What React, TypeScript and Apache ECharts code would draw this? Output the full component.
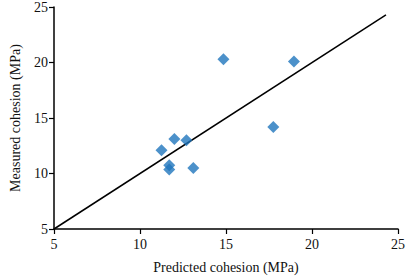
import React, { useEffect, useRef } from "react";
import * as echarts from "echarts";

const predicted = [14.85, 18.95, 17.75, 12.0, 12.7, 11.25, 11.7, 11.7, 13.1];
const measured = [20.3, 20.1, 14.2, 13.1, 13.0, 12.1, 10.75, 10.35, 10.5];
const lineX = [5, 24.3];
const lineY = [5, 24.3];
const xTicks = [5, 10, 15, 20, 25];
const yTicks = [5, 10, 15, 20, 25];

export default function App() {
  const ref = useRef<HTMLDivElement>(null);
  useEffect(() => {
    if (!ref.current) return;
    const chart = echarts.init(ref.current, null, { renderer: "svg" });
    const font = "'Liberation Serif', 'Times New Roman', serif";
    const axisCommon = {
      type: "value" as const,
      min: 5,
      max: 25,
      interval: 5,
      splitLine: { show: false },
      axisLine: { show: true, lineStyle: { color: "#000", width: 1.5 } },
      axisTick: { show: true, length: 5, lineStyle: { color: "#000", width: 1.2 } },
      axisLabel: { color: "#111", fontFamily: font, fontSize: 14 },
      nameLocation: "middle" as const,
      nameTextStyle: { color: "#111", fontFamily: font, fontSize: 14 },
    };
    chart.setOption({
      animation: false,
      grid: { left: 45, right: 9, top: 7, bottom: 50 },
      xAxis: {
        ...axisCommon,
        name: "Predicted cohesion (MPa)",
        nameGap: 31,
        axisLabel: { ...axisCommon.axisLabel, margin: 8, formatter: (v: number) => (xTicks.includes(v) ? String(v) : "") },
      },
      yAxis: {
        ...axisCommon,
        name: "Measured cohesion (MPa)",
        nameGap: 32,
        nameRotate: 90,
        axisLabel: { ...axisCommon.axisLabel, margin: 6, formatter: (v: number) => (yTicks.includes(v) ? String(v) : "") },
      },
      series: [
        {
          type: "line",
          data: lineX.map((x, i) => [x, lineY[i]]),
          symbol: "none",
          lineStyle: { color: "#000", width: 1.5 },
          z: 2,
        },
        {
          type: "scatter",
          data: predicted.map((x, i) => [x, measured[i]]),
          symbol: "diamond",
          symbolSize: 12,
          itemStyle: { color: "#1f75bd" },
          z: 3,
        },
      ],
    });
    return () => chart.dispose();
  }, []);
  return <div ref={ref} style={{ width: 408, height: 279, position: "absolute", left: 0, top: 0 }} />;
}
